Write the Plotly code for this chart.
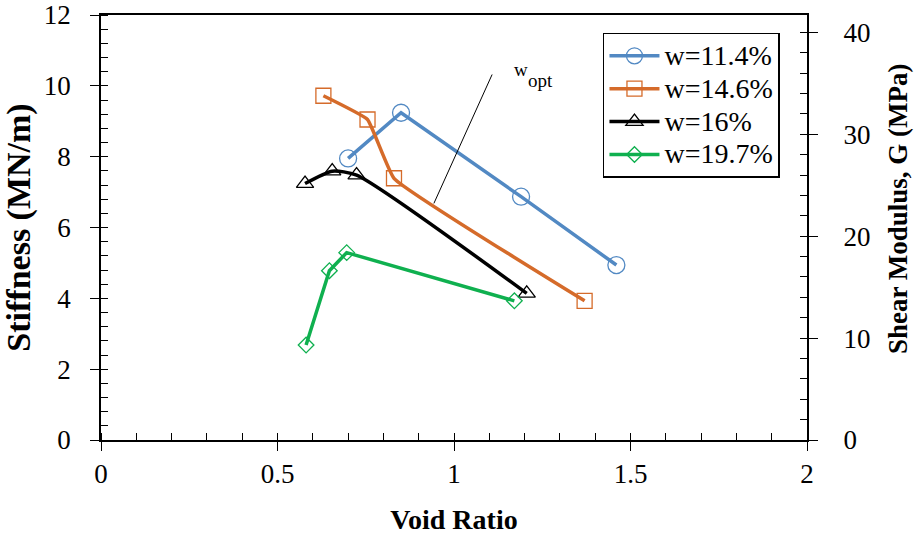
import plotly.graph_objects as go

# ---- data ----
void_w114 = [0.70, 0.85, 1.19, 1.46]
stiff_w114 = [7.95, 9.24, 6.87, 4.94]

void_w146 = [0.63, 0.755, 0.83, 1.37]
stiff_w146 = [9.72, 9.05, 7.39, 3.93]

void_w16 = [0.578, 0.655, 0.724, 1.206]
stiff_w16 = [7.24, 7.59, 7.48, 4.14]

void_w197 = [0.581, 0.647, 0.696, 1.171]
stiff_w197 = [2.68, 4.78, 5.29, 3.93]

series_names = ["w=11.4%", "w=14.6%", "w=16%", "w=19.7%"]
series_colors = ["#5289C3", "#D56B2A", "#000000", "#0FB04F"]
series_symbols = ["circle-open", "square-open", "triangle-up-open", "diamond-open"]
series_sizes = [17, 15, 15, 12]
series_shapes = ["linear", "spline", "spline", "linear"]
series_smooth = [0, 0.3, 0.6, 0]

x_ticks = [0, 0.5, 1, 1.5, 2]
x_ticklabels = ["0", "0.5", "1", "1.5", "2"]
y_ticks = [0, 2, 4, 6, 8, 10, 12]
y2_ticks = [0, 10, 20, 30, 40]
y2_ticklabels = ["0", "10", "20", "30", "40"]

# annotation line for w_opt (data coordinates)
wopt_line_x = [1.108, 0.943]
wopt_line_y = [10.32, 6.68]

FONT = "Liberation Serif, Times New Roman, serif"
PAD = "\u00a0\u00a0\u00a0"

fig = go.Figure()

xs = [void_w114, void_w146, void_w16, void_w197]
ys = [stiff_w114, stiff_w146, stiff_w16, stiff_w197]
for name, x, y, c, s, sz, sh, sm in zip(series_names, xs, ys, series_colors, series_symbols,
                                         series_sizes, series_shapes, series_smooth):
    line = dict(color=c, width=3.5, shape=sh)
    if sh == "spline":
        line["smoothing"] = sm
    fig.add_trace(go.Scatter(
        x=x, y=y, name="<span style='font-size:28px'>" + name + "</span>",
        mode="lines+markers", line=line,
        marker=dict(symbol=s, size=sz, color=c, line=dict(color=c, width=1.3)),
    ))

# empty trace so that the secondary (shear modulus) axis is drawn
fig.add_trace(go.Scatter(x=[], y=[], yaxis="y2", showlegend=False, hoverinfo="skip"))

fig.add_shape(type="line", xref="x", yref="y",
              x0=wopt_line_x[0], y0=wopt_line_y[0], x1=wopt_line_x[1], y1=wopt_line_y[1],
              line=dict(color="black", width=1))
fig.add_annotation(x=1.164, y=10.47, xref="x", yref="y", text="w",
                   showarrow=False, xanchor="left", yanchor="middle",
                   font=dict(family=FONT, size=19, color="black"))
fig.add_annotation(x=1.204, y=10.16, xref="x", yref="y", text="opt",
                   showarrow=False, xanchor="left", yanchor="middle",
                   font=dict(family=FONT, size=19, color="black"))

# right axis title (placed as annotation to match its off-centre position)
fig.add_annotation(x=1.129, y=0.5435, xref="paper", yref="paper",
                   text="<b>Shear Modulus, G (MPa)</b>", textangle=-90,
                   showarrow=False, xanchor="center", yanchor="middle",
                   font=dict(family=FONT, size=27, color="black"))

fig.update_layout(
    width=917, height=537,
    margin=dict(l=101, r=110, t=15, b=97, autoexpand=False),
    paper_bgcolor="white", plot_bgcolor="white",
    font=dict(family=FONT, color="black", size=27),
    showlegend=True,
    legend=dict(x=0.711, y=0.958, xanchor="left", yanchor="top",
                bgcolor="white", bordercolor="black", borderwidth=1.5,
                font=dict(family=FONT, size=23, color="black"),
                itemwidth=50, tracegroupgap=0),
    xaxis=dict(range=[0, 2], tickvals=x_ticks, ticktext=x_ticklabels, automargin=False,
               showgrid=False, zeroline=False, showline=True, linecolor="black", linewidth=1.5,
               mirror=True, ticks="outside", ticklen=9, tickwidth=1.3, tickcolor="black",
               minor=dict(dtick=0.1, ticks="inside", ticklen=7, tickwidth=1, tickcolor="black", showgrid=False),
               title=dict(text="<b>Void Ratio</b>", font=dict(family=FONT, size=28), standoff=21),
               tickfont=dict(family=FONT, size=27)),
    yaxis=dict(range=[0, 12], tickvals=y_ticks, automargin=False,
               showgrid=False, zeroline=False, showline=True, linecolor="black", linewidth=1.5,
               ticks="outside", ticklen=9, tickwidth=1.3, tickcolor="black",
               ticklabelstandoff=14,
               minor=dict(dtick=0.4, ticks="inside", ticklen=7, tickwidth=1, tickcolor="black", showgrid=False),
               title=dict(text="<b>Stiffness (MN/m)</b>", font=dict(family=FONT, size=34), standoff=6),
               tickfont=dict(family=FONT, size=27)),
    yaxis2=dict(range=[0, 41.7], tickvals=y2_ticks, ticktext=[PAD + t for t in y2_ticklabels],
                overlaying="y", side="right", automargin=False,
                showgrid=False, zeroline=False, showline=True, linecolor="black", linewidth=1.5,
                ticks="outside", ticklen=9, tickwidth=1.3, tickcolor="black",
                minor=dict(dtick=2, ticks="inside", ticklen=7, tickwidth=1, tickcolor="black", showgrid=False),
                tickfont=dict(family=FONT, size=27)),
)

fig.write_html("out.html", config={"displayModeBar": False},
               post_script="document.body.style.margin='0';document.body.style.padding='0';")
